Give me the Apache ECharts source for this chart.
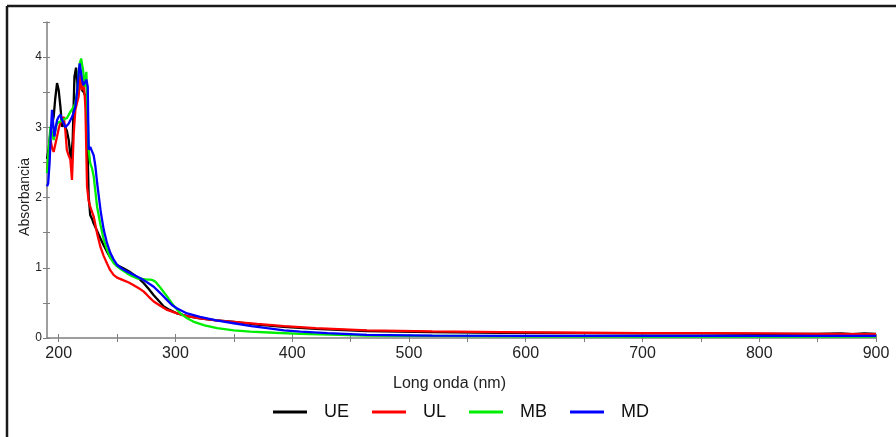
<!DOCTYPE html>
<html>
<head>
<meta charset="utf-8">
<script src="https://cdn.jsdelivr.net/npm/echarts@6/dist/echarts.min.js"></script>
<style>
html,body{margin:0;padding:0;background:#fff;}
#chart{width:896px;height:437px;}
</style>
</head>
<body>
<div id="chart"></div>
<script>
var seriesNames = ['UE', 'UL', 'MB', 'MD'];
var xTickValues = [200, 250, 300, 350, 400, 450, 500, 550, 600, 650, 700, 750, 800, 850, 900];
var xLabelValues = [200, 300, 400, 500, 600, 700, 800, 900];

var ueX = [190,191.5,193,194.5,195.7,197,198.6,200,201.5,202.9,204.3,205.7,207,208.6,210,210.6,212,213.5,214.9,216.3,217.7,219,220,221.5,222.9,224.3,225,225.7,226.3,227,228.5,230,233,235.7,238.5,241.4,244,247,250,255.7,260,264.3,268.6,272.9,277,281.4,285.7,290,295,301.5,310,321,335,350,370,392.9,420,464,520,579,650,700,750,800,850,870,880,890,900];
var ueY = [2.55,2.7,2.95,3.05,3.15,3.4,3.63,3.53,3.29,3.01,3.05,3.06,2.95,2.82,2.6,2.54,2.82,3.72,3.85,3.53,3.72,3.6,3.53,3.5,3.44,3.01,2.5,2.01,1.9,1.75,1.7,1.63,1.52,1.42,1.32,1.23,1.15,1.09,1.04,0.99,0.95,0.90,0.85,0.78,0.70,0.61,0.53,0.45,0.40,0.35,0.31,0.28,0.25,0.23,0.19,0.16,0.13,0.10,0.085,0.075,0.07,0.065,0.065,0.06,0.06,0.065,0.055,0.065,0.06];

var ulX = [190,191.5,193,194.5,195.7,197,198.6,200,201.4,203,204.3,205.7,207,208.5,210,211.4,212.9,214.3,215.7,217.1,218.6,220,221.4,222.9,224.3,225.7,227,230,232.9,235.7,238.5,241.4,244,247,250,255.7,260,264.3,268.6,272.9,277,281.4,287,292.9,301.5,310,321,335,350,370,393,420,464,520,579,650,700,750,800,850,900];
var ulY = [2.39,2.6,2.82,2.7,2.65,2.75,2.87,2.98,3.06,3.12,3.15,2.96,2.68,2.6,2.54,2.25,2.92,3.25,3.35,3.44,3.77,3.53,3.68,3.29,2.16,1.95,1.87,1.73,1.49,1.30,1.17,1.06,0.97,0.90,0.86,0.82,0.79,0.75,0.71,0.66,0.59,0.52,0.46,0.40,0.35,0.31,0.28,0.25,0.23,0.20,0.17,0.14,0.11,0.095,0.085,0.075,0.07,0.068,0.065,0.06,0.055];

var mbX = [190,191.5,193,194.5,195.7,197,198.6,201,202.9,205,207,210,212,214.3,215.7,217,218,219.2,220.2,220.9,222.3,223.7,224.9,225.7,227,228.5,230,232.9,235.7,238.6,241.4,244.3,247,250,254,258.6,263,267,272,276,278.6,281,282.9,287,292.9,298,304.3,310,315.7,325,335.7,350,364,385,407,440,464,520,600,700,800,900];
var mbY = [2.35,2.7,3.01,2.9,2.82,2.95,3.06,3.08,3.1,3.12,3.13,3.22,3.27,3.34,3.5,3.77,3.9,3.98,3.88,3.82,3.58,3.79,3.15,2.68,2.49,2.42,2.3,1.87,1.62,1.40,1.26,1.14,1.07,1.02,0.97,0.92,0.88,0.85,0.84,0.83,0.83,0.82,0.80,0.72,0.59,0.47,0.35,0.28,0.23,0.18,0.14,0.11,0.09,0.075,0.06,0.045,0.035,0.03,0.025,0.02,0.02,0.02];

var mdX = [190,191,192.2,193.5,194.3,195.3,196.3,197.5,198.6,200,201.5,203,204.3,205.7,207,208.5,210,211.5,213,214.3,215.7,217,218,219,220,221,222,223,223.7,224.9,225.3,225.7,227,228.6,230,231.4,233,234.5,236,238.6,241.4,244.3,247,250,254,258.6,264,270,275,281.4,287,292.9,297,301.5,310,321,335,350,365,378.6,393,407,430,464,520,600,700,800,900];
var mdY = [2.16,2.2,2.49,3.0,3.25,3.05,2.87,3.0,3.1,3.15,3.18,3.1,3.06,3.0,3.01,3.05,3.1,3.15,3.22,3.3,3.49,3.75,3.91,3.8,3.68,3.6,3.58,3.65,3.68,3.58,3.1,2.68,2.72,2.70,2.6,2.45,2.2,2.0,1.8,1.54,1.35,1.21,1.12,1.04,0.99,0.945,0.90,0.85,0.80,0.73,0.64,0.54,0.47,0.42,0.35,0.30,0.25,0.21,0.17,0.14,0.11,0.09,0.07,0.045,0.035,0.03,0.03,0.03,0.03];

var colors = ['#000000', '#ff0000', '#00ee00', '#0000ff'];
var xs = [ueX, ulX, mbX, mdX];
var ys = [ueY, ulY, mbY, mdY];

function zip(a, b) { return a.map(function (v, i) { return [v, b[i]]; }); }

var axisGray = '#7f7f7f';
var chart = echarts.init(document.getElementById('chart'));
var grid = { left: 47, right: 20, top: 22, bottom: 99 };

var option = {
  animation: false,
  backgroundColor: '#ffffff',
  grid: grid,
  xAxis: [{
    type: 'value', min: 190, max: 900, position: 'bottom',
    axisLine: { show: true, onZero: false, lineStyle: { color: axisGray, width: 1.5 } },
    axisTick: { show: true, length: 4, inside: false, customValues: xTickValues, lineStyle: { color: axisGray } },
    axisLabel: { customValues: xLabelValues, fontFamily: 'Liberation Sans, Arial, sans-serif', fontSize: 16, color: '#222', margin: 8 },
    splitLine: { show: false }
  }, {
    type: 'value', min: 190, max: 900, position: 'bottom', gridIndex: 0,
    axisLine: { show: false },
    axisTick: { show: true, length: 4, inside: true, customValues: xTickValues, lineStyle: { color: axisGray } },
    axisLabel: { show: false },
    splitLine: { show: false }
  }],
  yAxis: [{
    type: 'value', min: 0, max: 4.5, interval: 0.5,
    axisLine: { show: true, lineStyle: { color: axisGray, width: 1.5 } },
    axisTick: { show: true, length: 4, inside: false, lineStyle: { color: axisGray } },
    axisLabel: {
      fontFamily: 'Liberation Sans, Arial, sans-serif', fontSize: 12, color: '#222', margin: 5,
      formatter: function (v) { return (Math.abs(v - Math.round(v)) < 1e-9) ? String(Math.round(v)) : ''; }
    },
    splitLine: { show: false }
  }, {
    type: 'value', min: 0, max: 4.5, interval: 0.5, position: 'left',
    axisLine: { show: false },
    axisTick: { show: true, length: 3, inside: true, lineStyle: { color: axisGray } },
    axisLabel: { show: false },
    splitLine: { show: false }
  }],
  legend: {
    data: seriesNames,
    left: 268, top: 398,
    icon: 'rect', itemWidth: 34, itemHeight: 3, itemGap: 23,
    textStyle: { fontFamily: 'Liberation Sans, Arial, sans-serif', fontSize: 18, color: '#111', padding: [0, 0, 0, 12] }
  },
  graphic: [
    { type: 'line', shape: { x1: 7, y1: 6, x2: 896, y2: 6 }, style: { stroke: '#1a1a1a', lineWidth: 2.5 } },
    { type: 'line', shape: { x1: 7, y1: 6, x2: 7, y2: 437 }, style: { stroke: '#1a1a1a', lineWidth: 2.5 } },
    { type: 'text', left: 451 - 58, top: 376, style: { text: 'Long onda (nm)', font: '16px Liberation Sans, Arial, sans-serif', fill: '#222' } },
    { type: 'text', x: 25, y: 197, rotation: Math.PI / 2, style: { text: 'Absorbancia', font: '14px Liberation Sans, Arial, sans-serif', fill: '#222', textAlign: 'center', textVerticalAlign: 'middle' } }
  ],
  series: seriesNames.map(function (name, i) {
    return {
      name: name, type: 'line', xAxisIndex: 0, yAxisIndex: 0,
      data: zip(xs[i], ys[i]),
      showSymbol: false, symbol: 'none', smooth: false,
      lineStyle: { color: colors[i], width: 2.3 },
      itemStyle: { color: colors[i] },
      z: 2 + i
    };
  })
};
chart.setOption(option);
</script>
</body>
</html>
